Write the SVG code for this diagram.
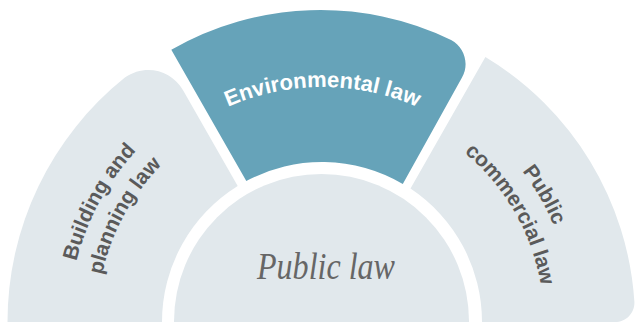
<svg xmlns="http://www.w3.org/2000/svg" xmlns:xlink="http://www.w3.org/1999/xlink" width="635" height="322" viewBox="0 0 635 322">
  <style>
    .seg-gray { fill: #e1e8ec; }
    .seg-teal { fill: #66a3b9; }
    .lbl { font-family: "Liberation Sans", Arial, sans-serif; font-weight: bold; font-size: 21px; }
    .lbl-dark { fill: #5a5a5a; }
    .lbl-light { fill: #ffffff; }
    .center-lbl { font-family: "Liberation Serif", "Times New Roman", serif; font-style: italic; font-size: 38px; fill: #666666; }
  </style>
  <defs>
    <path id="arcEnv" d="M 119 204.5 A 235 235 0 0 1 526 204.5"/>
    <path id="arcBld1" d="M 106 453.2 A 251 251 0 0 1 313.4 71.1"/>
    <path id="arcBld2" d="M 129.8 438.5 A 223 223 0 0 1 314.2 99.1"/>
    <path id="arcCom1" d="M 367.2 76.7 A 249 249 0 0 1 558 407.2"/>
    <path id="arcCom2" d="M 362.2 105.3 A 220 220 0 0 1 530.7 397.2"/>
  </defs>
  <rect width="635" height="322" fill="#ffffff"/>
  <g id="connectors"></g>
  <g id="building-planning-law">
    <path class="seg-gray" d="M 7.5 322 A 313 313 0 0 1 124.9 77.6 C 145 63.7 171.2 69.6 183.2 90.6 L 237.7 186 A 160 160 0 0 0 162 322 Z"/>
    <text class="lbl lbl-dark"><textPath href="#arcBld1" xlink:href="#arcBld1" startOffset="50%" text-anchor="middle">Building and</textPath></text>
    <text class="lbl lbl-dark"><textPath href="#arcBld2" xlink:href="#arcBld2" startOffset="50%" text-anchor="middle">planning law</textPath></text>
  </g>
  <g id="environmental-law">
    <path class="seg-teal" d="M 171.3 49.8 A 300 300 0 0 1 451.1 39.9 C 464.7 47.2 469.6 64.1 462 77.6 L 402.8 184 A 160 160 0 0 0 246.3 181 Z"/>
    <text class="lbl lbl-light" style="font-size:22px"><textPath href="#arcEnv" xlink:href="#arcEnv" startOffset="50%" text-anchor="middle">Environmental law</textPath></text>
  </g>
  <g id="public-commercial-law">
    <path class="seg-gray" d="M 485.4 57 A 309 309 0 0 1 634.4 302.1 C 634.7 313.1 626 322 615 322 L 482 322 A 160 160 0 0 0 410.5 188.6 Z"/>
    <text class="lbl lbl-dark"><textPath href="#arcCom1" xlink:href="#arcCom1" startOffset="50%" text-anchor="middle">Public</textPath></text>
    <text class="lbl lbl-dark"><textPath href="#arcCom2" xlink:href="#arcCom2" startOffset="50%" text-anchor="middle">commercial law</textPath></text>
  </g>
  <g id="public-law">
    <circle class="seg-gray" cx="321.5" cy="321.5" r="147.5"/>
    <text class="center-lbl" x="326" y="279" text-anchor="middle" textLength="138" lengthAdjust="spacingAndGlyphs">Public law</text>
  </g>
</svg>
